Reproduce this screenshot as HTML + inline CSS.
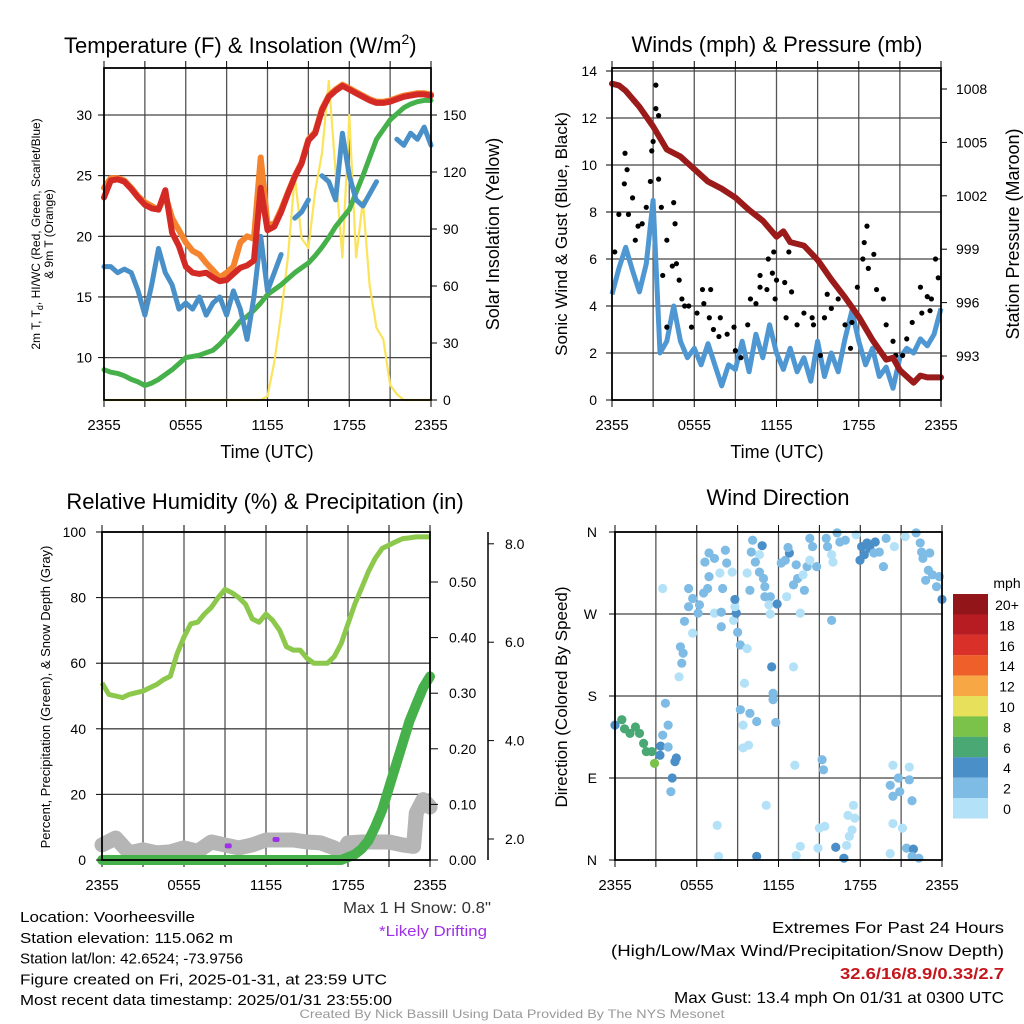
<!DOCTYPE html>
<html><head><meta charset="utf-8"><style>
html,body{margin:0;padding:0;background:#fff}
svg{display:block;font-family:"Liberation Sans",sans-serif}
</style></head><body>
<svg id="chart" width="1024" height="1024" viewBox="0 0 1024 1024" xmlns="http://www.w3.org/2000/svg">
<g id="layer"></g>
</svg>
<script>
// ---- data (hour offset from 2355 UTC) ----
const halfHours = [0,0.5,1,1.5,2,2.5,3,3.5,4,4.5,5,5.5,6,6.5,7,7.5,8,8.5,9,9.5,10,10.5,11,11.5,12,12.5,13,13.5,14,14.5,15,15.5,16,16.5,17,17.5,18,18.5,19,19.5,20,20.5,21,21.5,22,22.5,23,23.5,24];
const tempRed = [23.2,24.6,24.7,24.5,23.9,23.2,22.6,22.3,22.2,23.8,20.3,19.2,17.5,17.0,16.9,17.0,16.6,16.3,16.4,16.9,17.4,17.6,18.0,24.0,20.5,20.8,22.0,23.5,24.9,26.0,27.9,28.5,30.4,31.5,32.0,32.4,32.1,31.8,31.5,31.2,31.0,31.0,31.1,31.3,31.5,31.6,31.7,31.7,31.6];
const temp9m = [24.0,24.8,24.8,24.6,24.0,23.3,22.8,22.5,22.2,23.4,21.5,20.5,19.5,18.8,18.5,17.8,17.2,16.6,17.0,17.5,19.5,20.0,19.8,26.5,21.0,21.0,22.2,23.6,25.0,26.1,28.0,28.6,30.5,31.6,32.1,32.5,32.2,31.9,31.6,31.3,31.1,31.1,31.2,31.4,31.6,31.7,31.8,31.8,31.7];
const dewGreen = [9.0,8.8,8.7,8.5,8.2,8.0,7.7,7.9,8.2,8.6,9.0,9.5,10.0,10.1,10.2,10.4,10.6,11.1,11.7,12.3,13.0,13.4,13.9,14.5,15.2,15.6,16.0,16.5,17.0,17.4,17.8,18.4,19.1,19.9,20.8,21.5,22.2,23.6,25.0,26.5,28.0,28.8,29.6,30.1,30.6,30.9,31.1,31.2,31.2];
const windChill = [17.5,17.5,17.0,17.3,17.0,15.5,13.5,16.0,19.0,17.0,16.0,14.0,14.5,14.0,15.0,13.5,14.5,15.0,13.5,15.5,14.0,11.5,15.0,20.0,15.5,17.0,18.5,null,21.5,22.0,23.0,null,25.0,24.5,23.0,28.5,25.0,23.0,22.5,23.5,24.5,null,null,28.0,27.5,28.5,28.0,29.0,27.5];
const insolation = [0,0,0,0,0,0,0,0,0,0,0,0,0,0,0,0,0,0,0,0,0,0,0,0,2,20,45,75,118,85,80,110,130,168,120,75,150,75,105,60,38,32,8,3,0,0,0,0,0];
const windSonic = [4.5,5.6,6.5,5.5,4.6,5.8,8.5,2.0,2.5,4.0,2.5,1.8,2.2,1.5,2.4,1.5,0.6,1.5,1.3,2.5,1.2,2.8,1.8,3.2,2.0,1.3,2.2,1.2,1.8,0.8,2.5,1.0,2.0,1.2,2.6,3.8,2.5,1.5,2.2,1.0,1.4,0.5,1.8,2.2,2.0,2.6,2.3,2.8,3.9];
const pressHours = [0,0.5,1,2,3,4,5,6,7,8,9,10,11,12,12.5,13,14,15,16,17,18,19,20,20.5,21,22,22.5,23,24];
const pressure = [1008.3,1008.2,1007.9,1007.0,1005.9,1004.6,1004.2,1003.5,1002.8,1002.4,1001.9,1001.2,1000.6,999.7,1000.0,999.4,999.2,998.4,997.3,996.3,995.2,993.9,992.8,992.9,992.2,991.5,991.9,991.8,991.8];
const gustHours = [0.2,0.5,0.95,0.9,1.1,1.2,1.5,1.7,1.9,2.2,2.5,2.8,2.9,3.0,3.2,3.2,3.4,3.4,3.6,3.7,4.0,4.0,4.4,4.5,4.6,4.7,4.9,5.1,5.3,5.6,5.8,6.2,6.6,6.7,7.2,7.1,7.4,7.9,7.8,8.4,8.9,9.0,9.4,9.9,10.1,10.5,10.8,10.8,11.3,11.4,11.8,11.7,12.0,11.9,12.6,12.9,13.1,12.7,13.5,14.0,14.6,14.7,15.2,15.5,15.7,16.0,16.5,17.0,17.4,17.5,17.9,18.3,18.4,18.6,18.7,19.1,19.3,19.8,20.0,20.5,20.7,21.2,21.5,21.9,22.5,22.6,23.0,23.3,23.6,23.8,23.2];
const gustValues = [6.3,7.9,10.5,9.2,9.8,7.9,8.6,6.8,7.4,7.5,8.2,9.3,10.6,11.0,12.4,13.4,12.1,9.4,8.2,5.3,6.8,3.1,5.7,8.4,7.5,5.8,5.1,4.3,4.0,4.0,3.1,3.7,4.7,4.1,4.7,3.5,3.0,3.5,2.7,2.8,3.1,2.1,1.8,3.2,4.3,4.1,5.3,4.8,4.7,6.0,6.3,5.4,5.1,4.3,5.0,6.3,4.6,3.5,3.2,3.7,3.5,3.2,1.9,3.5,4.5,3.9,4.3,3.2,2.2,3.3,4.8,6.0,6.7,7.4,5.6,6.2,4.7,4.3,3.2,2.5,1.9,1.9,2.6,3.3,4.8,3.7,4.4,4.3,6.0,5.2,3.8];
const rhValues = [54,50.5,50,49.5,50.5,51,51.5,52.5,53.5,55,56,63,68,72,72.5,75,77,80,82.5,81.5,80,78,73.5,72.5,75,73,70,65,64,64,61.5,60,60,60,62,66,72,78,83,88,92,95,96,97,98,98.2,98.5,98.5,98.5];
const precipValues = [0,0,0,0,0,0,0,0,0,0,0,0,0,0,0,0,0,0,0,0,0,0,0,0,0,0,0,0,0,0,0,0,0,0,0,0,0.005,0.01,0.02,0.035,0.06,0.09,0.13,0.17,0.21,0.25,0.28,0.31,0.33];
const snowHours = [0,1,2,3,4,5,6,7,8,9,10,11,12,13,14,15,16,17,17.5,18,19,20,21,22,22.8,23,23.5,24];
const snowDepth = [1.88,2.02,1.72,1.78,1.72,1.74,1.82,1.75,1.94,1.88,1.82,1.88,1.98,1.98,1.98,1.94,1.92,1.82,1.7,1.92,1.94,1.94,1.94,1.88,1.85,2.53,2.8,2.65];
const driftHours = [9.2,12.7];
const driftDepth = [1.85,1.98];
const dirHours = [0,0.5,0.7,1.1,1.5,1.8,2.1,2.3,2.7,2.9,3.3,3.35,3.9,4.2,4.4,4.5,4.1,3.7,3.9,3.5,3.5,4.7,4.9,5.0,4.8,5.1,5.4,5.4,5.7,6.2,6.1,6.5,5.7,6.8,6.9,6.6,6.9,7.3,7.7,8.1,8.2,8.6,7.9,7.3,7.8,7.8,8.7,8.9,8.8,8.8,9.0,9.2,9.7,9.5,9.2,9.4,9.9,10.4,9.8,9.4,9.7,9.9,10.1,10.8,10.6,10.3,10.0,10.6,10.9,11.0,11.0,11.4,11.3,11.4,11.9,11.5,11.6,11.6,11.8,12.2,12.5,12.8,12.7,12.6,13.1,13.4,13.6,13.1,13.3,13.9,14.1,14.3,14.5,14.8,14.3,13.8,15.5,15.6,15.9,16.0,16.3,16.5,16.9,15.9,15.2,15.3,13.2,11.1,7.5,7.6,10.4,13.3,13.6,14.9,15.0,15.4,16.2,16.8,17.0,17.2,17.4,17.1,17.6,17.5,17.7,18.1,18.5,18.7,19.1,18.3,17.98,19.0,19.4,19.7,19.9,20.5,20.2,20.4,20.8,20.9,20.4,20.4,21.1,21.6,21.6,21.8,20.2,21.4,21.9,21.8,22.3,21.3,22.1,22.4,22.5,22.6,23.1,23.0,23.3,22.8,23.6,23.8,24.0];
const dirDegrees = [148,154,144,139,146,139,128,119,119,106,115,125,124,90,108,112,75,172,148,137,298,201,216,227,234,262,278,298,287,280,271,293,249,298,311,327,337,331,315,340,326,316,298,271,272,256,263,271,278,286,250,236,232,194,165,148,161,152,126,123,315,296,351,345,335,327,338,316,309,300,289,289,280,270,281,212,183,176,151,326,329,337,343,289,302,309,271,212,324,296,322,353,344,322,329,313,353,344,335,327,359,349,351,263,110,99,104,60,38,4,4,5,15,13,35,37,14,2,16,26,33,49,46,60,357,344,348,342,349,335,329,337,338,322,353,344,82,104,90,75,70,40,35,102,88,65,7,13,12,4,2,355,359,348,338,331,337,318,313,307,300,311,286];
const dirSpeeds = [5,7,7,7,7,7,7,7,7,9,5,5,3,5,5,5,3,3,3,3,1,1,3,3,3,3,3,3,3,3,3,3,1,3,3,3,3,3,1,3,3,1,3,1,3,3,1,5,1,5,3,3,1,1,3,1,3,3,1,1,1,3,3,5,1,3,3,3,3,3,3,3,1,1,5,5,3,3,3,3,3,5,3,1,3,3,1,1,3,3,3,3,3,3,1,1,3,3,1,1,3,3,3,3,3,3,1,1,1,1,5,1,1,1,1,1,5,5,1,1,1,1,1,1,1,5,5,5,5,5,5,3,3,3,3,1,3,1,3,3,3,1,1,1,3,3,1,3,5,3,3,1,3,3,3,3,3,3,3,3,3,3,5];
const timeTicks = ["2355","0555","1155","1755","2355"];
const tempTicks = [10,15,20,25,30];
const insTicks = [0,30,60,90,120,150];
const windTicks = [0,2,4,6,8,10,12,14];
const pressTicks = [993,996,999,1002,1005,1008];
const rhTicks = [0,20,40,60,80,100];
const precipTicks = [0,0.1,0.2,0.3,0.4,0.5];
const snowTicks = [2,4,6,8];
const dirTicks = ["N","E","S","W","N"];
const cbLabels = ["20+","18","16","14","12","10","8","6","4","2","0"];
const cbColors = ["#921519","#b81c23","#d9312a","#ef5f2a","#f7a844","#e6e05a","#7bc24a","#49a873","#4a8fc7","#7ebbe5","#b3e1f7"];

const NS="http://www.w3.org/2000/svg";
const layer=document.getElementById('layer');
function mk(tag,attrs,parent){const e=document.createElementNS(NS,tag);for(const k in attrs)e.setAttribute(k,attrs[k]);(parent||layer).appendChild(e);return e;}
function txt(s,x,y,size,anchor,parent,extra){const e=mk('text',Object.assign({x:x,y:y,'font-size':size,'text-anchor':anchor||'start',fill:'#000'},extra||{}),parent);e.textContent=s;return e;}
function linePath(xs,ys,fx,fy){let d='',pen=false;for(let i=0;i<xs.length;i++){if(ys[i]===null||ys[i]===undefined){pen=false;continue;}d+=(pen?'L':'M')+fx(xs[i]).toFixed(1)+' '+fy(ys[i]).toFixed(1);pen=true;}return d;}

function panelFrame(g,x0,x1,y0,y1,yTicksPx){
  const fx=h=>x0+h*(x1-x0)/24;
  for(let k=1;k<8;k++){const gl=mk('line',{x1:fx(k*3),x2:fx(k*3),y1:y0,y2:y1,stroke:'#555','stroke-width':1.3},g);}
  yTicksPx.forEach(py=>{const gl=mk('line',{x1:x0,x2:x1,y1:py,y2:py,stroke:'#444','stroke-width':1.3},g);});
  for(let k=0;k<=8;k++){mk('line',{x1:fx(k*3),x2:fx(k*3),y1:y1,y2:y1+7,stroke:'#000','stroke-width':1},g);mk('line',{x1:fx(k*3),x2:fx(k*3),y1:y0,y2:y0-7,stroke:'#000','stroke-width':1},g);}
  timeTicks.forEach((t,i)=>{const e=txt(t,fx(i*6),y1+30,15,'middle',g);});
  return fx;
}
function frameRect(g,x0,x1,y0,y1){const r=mk('rect',{x:x0,y:y0,width:x1-x0,height:y1-y0,fill:'none',stroke:'#000','stroke-width':1.8},g);}

// ---------- Panel 1 ----------
(function(){
  const g=mk('g',{});
  const x0=104,x1=431,y0=68,y1=400;
  const fyT=T=>115+(30-T)*12.13, fyI=v=>400-v*1.9;
  const fx=panelFrame(g,x0,x1,y0,y1,tempTicks.map(fyT));
  const s=[[insolation,'#fbe35a',2.2,fyI,'insolation-line'],[dewGreen,'#46b04a',5,fyT,'dewpoint-line'],[windChill,'#4a90c8',5,fyT,'wind-chill-line'],[temp9m,'#f5842f',6,fyT,'temp-9m-line'],[tempRed,'#d42a25',6,fyT,'temp-2m-line']];
  s.forEach(a=>{const p=mk('path',{d:linePath(halfHours,a[0],fx,a[3]),fill:'none',stroke:a[1],'stroke-width':a[2],'stroke-linejoin':'round','stroke-linecap':'round'},g);});
  frameRect(g,x0,x1,y0,y1);
  tempTicks.forEach(t=>{mk('line',{x1:x0-6,x2:x0,y1:fyT(t),y2:fyT(t),stroke:'#000'},g);const e=txt(String(t),x0-12,fyT(t)+5,14,'end',g);});
  insTicks.forEach(t=>{mk('line',{x1:x1,x2:x1+6,y1:fyI(t),y2:fyI(t),stroke:'#000'},g);const e=txt(String(t),x1+12,fyI(t)+5,14,'start',g);});
  const t=txt('Temperature (F) & Insolation (W/m',64,53,22,'start',g);
  const ts=mk('tspan',{'font-size':14,dy:-9},t);ts.textContent='2';const ts2=mk('tspan',{'font-size':22,dy:9},t);ts2.textContent=')';
  const xl=txt('Time (UTC)',267,458,18,'middle',g);
  const yl=txt('',0,0,12,'middle',g,{transform:'translate(40,234) rotate(-90)'});
  const a1=mk('tspan',{},yl);a1.textContent='2m T, T';const a2=mk('tspan',{'font-size':9,dy:3},yl);a2.textContent='d';const a3=mk('tspan',{dy:-3},yl);a3.textContent=', HI/WC (Red, Green, Scarlet/Blue)';
  const yl2=txt('& 9m T (Orange)',0,0,12,'middle',g,{transform:'translate(53,234) rotate(-90)'});
  const yr=txt('Solar Insolation (Yellow)',0,0,18,'middle',g,{transform:'translate(499,234) rotate(-90)'});
})();

// ---------- Panel 2 ----------
(function(){
  const g=mk('g',{});
  const x0=612,x1=941,y0=68,y1=400;
  const fyW=v=>400-v*23.5, fyP=p=>89+(1008-p)*17.8;
  const fx=panelFrame(g,x0,x1,y0,y1,windTicks.map(fyW));
  const w=mk('path',{d:linePath(halfHours,windSonic,fx,fyW),fill:'none',stroke:'#4f97d2','stroke-width':5,'stroke-linejoin':'round'},g);
  gustHours.forEach((h,i)=>{const c=mk('circle',{cx:fx(h),cy:fyW(gustValues[i]),r:2.6,fill:'#000'},g);});
  const p=mk('path',{d:linePath(pressHours,pressure,fx,fyP),fill:'none',stroke:'#9b1a1a','stroke-width':6,'stroke-linejoin':'round','stroke-linecap':'round'},g);
  frameRect(g,x0,x1,y0,y1);
  windTicks.forEach(t=>{mk('line',{x1:x0-6,x2:x0,y1:fyW(t),y2:fyW(t),stroke:'#000'},g);const e=txt(String(t),x0-15,fyW(t)+5,14,'end',g);});
  pressTicks.forEach(t=>{mk('line',{x1:x1,x2:x1+6,y1:fyP(t),y2:fyP(t),stroke:'#000'},g);const e=txt(String(t),x1+15,fyP(t)+5,14,'start',g);});
  const t=txt('Winds (mph) & Pressure (mb)',777,52,22,'middle',g);
  const xl=txt('Time (UTC)',777,458,18,'middle',g);
  const yl=txt('Sonic Wind & Gust (Blue, Black)',0,0,17,'middle',g,{transform:'translate(567,234) rotate(-90)'});
  const yr=txt('Station Pressure (Maroon)',0,0,18,'middle',g,{transform:'translate(1019,234) rotate(-90)'});
})();

// ---------- Panel 3 ----------
(function(){
  const g=mk('g',{});
  const x0=102,x1=430,y0=532,y1=860;
  const fyR=v=>860-v*3.28, fyPr=v=>860-v*556, fyS=v=>839-(v-2)*49.2;
  const fx=panelFrame(g,x0,x1,y0,y1,rhTicks.map(fyR));
  const sn=mk('path',{d:linePath(snowHours,snowDepth,fx,fyS),fill:'none',stroke:'#b5b5b5','stroke-width':15,'stroke-linejoin':'round','stroke-linecap':'round'},g);
  driftHours.forEach((h,i)=>{const r=mk('rect',{x:fx(h)-3,y:fyS(driftDepth[i])-3,width:7,height:5,rx:2,fill:'#a030e8'},g);});
  const pr=mk('path',{d:linePath(halfHours,precipValues,fx,fyPr),fill:'none',stroke:'#46b04a','stroke-width':10,'stroke-linejoin':'round','stroke-linecap':'round'},g);
  const rh=mk('path',{d:linePath(halfHours,rhValues,fx,fyR),fill:'none',stroke:'#8cc84b','stroke-width':5,'stroke-linejoin':'round'},g);
  frameRect(g,x0,x1,y0,y1);
  rhTicks.forEach(t=>{mk('line',{x1:x0-6,x2:x0,y1:fyR(t),y2:fyR(t),stroke:'#000'},g);const e=txt(String(t),x0-16,fyR(t)+5,14,'end',g);});
  precipTicks.forEach(t=>{mk('line',{x1:x1,x2:x1+8,y1:fyPr(t),y2:fyPr(t),stroke:'#000'},g);const e=txt(t.toFixed(2),x1+19,fyPr(t)+5,14,'start',g);});
  mk('line',{x1:488,x2:488,y1:532,y2:860,stroke:'#000','stroke-width':1.5},g);
  snowTicks.forEach(t=>{mk('line',{x1:488,x2:494,y1:fyS(t),y2:fyS(t),stroke:'#000'},g);const e=txt(t.toFixed(1),505,fyS(t)+5,14,'start',g);});
  const t=txt('Relative Humidity (%) & Precipitation (in)',265,509,22,'middle',g);
  const yl=txt('Percent, Precipitation (Green), & Snow Depth (Gray)',0,0,13,'middle',g,{transform:'translate(50,697) rotate(-90)'});
})();

// ---------- Panel 4 ----------
(function(){
  const g=mk('g',{});
  const x0=615,x1=942,y0=532,y1=860;
  const fyD=d=>860-d*(328/360);
  const fx=panelFrame(g,x0,x1,y0,y1,[90,180,270].map(fyD));
  const colorFor=s=>cbColors[10-Math.min(10,Math.floor(s/2))];
  dirHours.forEach((h,i)=>{const c=mk('circle',{cx:fx(h),cy:fyD(dirDegrees[i]),r:4.6,fill:colorFor(dirSpeeds[i])},g);});
  frameRect(g,x0,x1,y0,y1);
  dirTicks.forEach((t,i)=>{const y=fyD(i*90);mk('line',{x1:x0-6,x2:x0,y1:y,y2:y,stroke:'#000'},g);const e=txt(t,x0-18,y+5,14,'end',g);});
  const t=txt('Wind Direction',778,505,22,'middle',g);
  const yl=txt('Direction (Colored By Speed)',0,0,17,'middle',g,{transform:'translate(567,697) rotate(-90)'});
  const cb=mk('g',{},g);
  cbColors.forEach((c,i)=>{const r=mk('rect',{x:953,y:594+i*20.4,width:35,height:20.5,fill:c},cb);});
  cbLabels.forEach((l,i)=>{const e=txt(l,1007,610+i*20.4,14,'middle',cb);});
  const u=txt('mph',1007,588,14,'middle',cb);
})();

// ---------- footer text ----------
(function(){
  const g=mk('g',{});
  const lines=['Location: Voorheesville','Station elevation: 115.062 m','Station lat/lon: 42.6524; -73.9756','Figure created on Fri, 2025-01-31, at 23:59 UTC','Most recent data timestamp: 2025/01/31 23:55:00'];
  const widths=[175,213,223,367,372];
  lines.forEach((l,i)=>{const e=txt(l,20,922+i*20.8,15,'start',g,{textLength:widths[i],lengthAdjust:'spacingAndGlyphs'});});
  const m=txt('Max 1 H Snow: 0.8"',491,913,16,'end',g,{fill:'#333',textLength:148,lengthAdjust:'spacingAndGlyphs'});
  const d=txt('*Likely Drifting',487,936,15,'end',g,{fill:'#a030e8',textLength:108,lengthAdjust:'spacingAndGlyphs'});
  const r=[['Extremes For Past 24 Hours',933,'#000',232,'normal'],['(High/Low/Max Wind/Precipitation/Snow Depth)',956,'#000',393,'normal'],['32.6/16/8.9/0.33/2.7',979,'#c4161c',164,'bold'],['Max Gust: 13.4 mph On 01/31 at 0300 UTC',1003,'#000',330,'normal']];
  r.forEach(a=>{const e=txt(a[0],1004,a[1],16,'end',g,{fill:a[2],'font-weight':a[4],textLength:a[3],lengthAdjust:'spacingAndGlyphs'});});
  const c=txt('Created By Nick Bassill Using Data Provided By The NYS Mesonet',512,1018,12,'middle',g,{fill:'#999',textLength:425,lengthAdjust:'spacingAndGlyphs'});
})();
</script>
</body></html>
